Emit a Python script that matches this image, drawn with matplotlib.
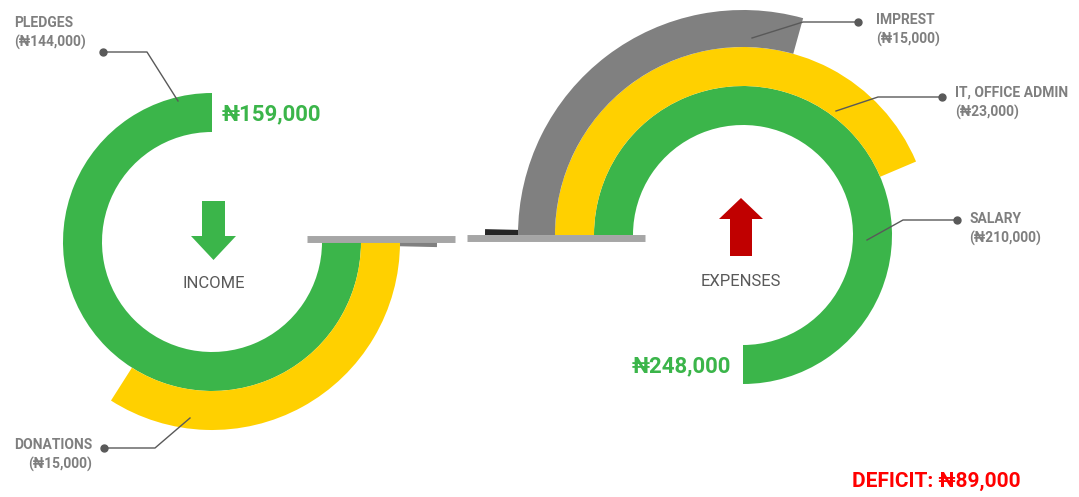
import numpy as np
import matplotlib
matplotlib.use('Agg')
import matplotlib.pyplot as plt
from matplotlib.patches import FancyArrow

# data
income_names = ['PLEDGES', 'DONATIONS', 'OTHER']
income_values = [144000, 15000, 0]
income_sweep = [270, 122.5, 1.3]          # degrees drawn for each ring
income_total = 159000

expense_names = ['SALARY', 'IT, OFFICE ADMIN', 'IMPREST', 'OTHER']
expense_values = [210000, 23000, 15000, 0]
expense_sweep = [270, 157, 105.5, 1.3]
expense_total = 248000
deficit = expense_total - income_total

GREEN = '#3bb54a'
YELLOW = '#ffd000'
GRAY = '#808080'
DARK = '#262626'
LINE = '#a6a6a6'
LABEL = '#7f7f7f'
income_colors = [GREEN, YELLOW, GRAY]
expense_colors = [GREEN, YELLOW, GRAY, DARK]

ring_edges = [110, 149, 188, 225, 258]    # ring radii in pixels

W, H = 1079, 497
R = 262
fig = plt.figure(figsize=(W / 100, H / 100), dpi=100)

# overlay in pixel coordinates for texts, arrows and leaders
ax0 = fig.add_axes([0, 0, 1, 1])
ax0.set_xlim(0, W)
ax0.set_ylim(H, 0)
ax0.axis('off')
ax0.set_zorder(10)
ax0.patch.set_alpha(0)


def ring_axes(cx, cy, zero):
    ax = fig.add_axes([(cx - R) / W, (H - cy - R) / H, 2 * R / W, 2 * R / H],
                      projection='polar')
    ax.set_theta_zero_location(zero)
    ax.set_theta_direction(-1)
    ax.set_ylim(0, R)
    ax.axis('off')
    ax.patch.set_alpha(0)
    return ax


def money(v):
    return '\u20a6{:,}'.format(v)


# income rings
inc_cx, inc_cy = 212, 242
axi = ring_axes(inc_cx, inc_cy, 'E')
for i, s in enumerate(income_sweep):
    axi.bar(0, ring_edges[i + 1] - ring_edges[i], width=np.deg2rad(s),
            bottom=ring_edges[i], align='edge', color=income_colors[i],
            edgecolor='none')

# expense rings
exp_cx, exp_cy = 743, 235
axe = ring_axes(exp_cx, exp_cy, 'W')
for i, s in enumerate(expense_sweep):
    axe.bar(0, ring_edges[i + 1] - ring_edges[i], width=np.deg2rad(s),
            bottom=ring_edges[i], align='edge', color=expense_colors[i],
            edgecolor='none')

# base plates
ax0.plot([307, 455], [238.5, 238.5], color=LINE, lw=5, solid_capstyle='butt')
ax0.plot([467, 645], [237.5, 237.5], color=LINE, lw=5, solid_capstyle='butt')

# arrows
ax0.add_patch(FancyArrow(213.5, 201, 0, 59, width=23, head_width=45,
                         head_length=24, length_includes_head=True,
                         color=GREEN, lw=0))
ax0.add_patch(FancyArrow(741, 256, 0, -58, width=22, head_width=44,
                         head_length=21, length_includes_head=True,
                         color='#c00000', lw=0))

narrow = ['Liberation Sans Narrow', 'Roboto', 'DejaVu Sans']
bold = ['Roboto', 'DejaVu Sans']

ax0.text(213.5, 283, 'INCOME', ha='center', va='center', fontsize=12,
         color='#595959', family=narrow)
ax0.text(741, 281, 'EXPENSES', ha='center', va='center', fontsize=12,
         color='#595959', family=narrow)

ax0.text(222, 114, money(income_total), ha='left', va='center', fontsize=16,
         fontweight='bold', color=GREEN, family=narrow)
ax0.text(731, 366, money(expense_total), ha='right', va='center', fontsize=16,
         fontweight='bold', color=GREEN, family=narrow)
ax0.text(1021, 481, 'DEFICIT: ' + money(deficit), ha='right', va='center',
         fontsize=15, fontweight='bold', color='#ff0000', family=narrow)

# leader labels: (name, value, text x, text y, ha, dot, knee, end)
leaders = [
    (income_names[0], income_values[0], 14, 33, 'left', (103, 52), (147, 52), (178, 101)),
    (income_names[1], income_values[1], 92, 455, 'right', (104, 448), (155, 448), (190, 418)),
    (expense_names[2], expense_values[2], 876, 30, 'left', (858, 22), (803, 22), (752, 38)),
    (expense_names[1], expense_values[1], 955, 103, 'left', (942, 97), (878, 97), (836, 111)),
    (expense_names[0], expense_values[0], 969, 229, 'left', (957, 220), (903, 220), (867, 240)),
]
for name, val, tx, ty, ha, dot, knee, end in leaders:
    ax0.text(tx, ty, name + '\n(' + money(val) + ')', ha=ha, va='center',
             fontsize=10, fontweight='bold', color=LABEL, family=bold,
             linespacing=1.5, multialignment=ha)
    ax0.plot([dot[0], knee[0], end[0]], [dot[1], knee[1], end[1]],
             color='#595959', lw=1)
    ax0.plot(dot[0], dot[1], 'o', color='#595959', ms=5)

fig.savefig('out.png', dpi=100)
